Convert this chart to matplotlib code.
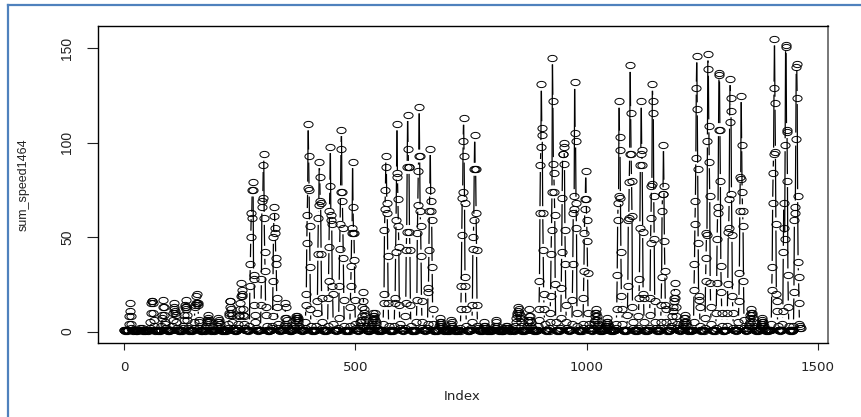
import matplotlib
matplotlib.use('Agg')
import matplotlib.pyplot as plt
from matplotlib.collections import LineCollection
from matplotlib.lines import Line2D
from matplotlib.path import Path
from matplotlib.transforms import Affine2D
import numpy as np

# hourly values, one row per day (61 days x 24 hours)
day_00_10 = [
    [1,1,.5,1,1,1,.5,1,1,1,4,8,15,11,8,4,2,1,1,.5,1,1,1,1],
    [1,.5,1,1,1,.5,1,1,1,1,1,2,1,1,2,1,1,1,.5,1,1,1,.5,1],
    [1,1,1,.5,1,1,1,1,2,5,10,15,16,16,15,10,6,3,1,1,.5,1,1,1],
    [1,.5,1,1,1,1,.5,1,1,3,7,9,13,17,13,9,5,4,2,1,1,1,.5,1],
    [1,1,.5,1,1,1,1,1,3,6,10,12,15,13,11,10,9,5,2,1,1,1,1,.5],
    [.5,1,1,1,1,.5,1,2,3,6,9,13,14,17,13,12,9,6,2,1,1,.5,1,1],
    [1,1,.5,1,1,1,1,2,5,13,14,15,19,20,15,15,14,6,5,2,1,1,1,.5],
    [1,.5,1,1,1,1,.5,1,2,1,3,5,6,9,7,6,5,3,1,1,1,.5,1,1],
    [1,1,1,.5,1,1,1,1,1,2,3,5,7,6,5,4,2,1,1,1,.5,1,1,1],
    [1,.5,1,1,1,.5,1,1,2,4,9,10,13,16,16,12,10,9,5,2,1,1,1,.5],
    [1,1,.5,1,1,1,2,4,8,9,12,15,19,26,22,20,19,12,9,8,4,2,1,1],
]
day_11_20 = [
    [1,1,1,.5,1,1,1,3,24,36,50,63,60,75,79,75,30,28,14,9,5,2,1,1],
    [1,.5,1,1,1,1,1,1,14,28,66,69,71,88,94,60,42,32,13,9,3,1,1,.5],
    [1,1,.5,1,1,1,1,2,3,8,27,50,61,66,55,52,39,36,18,13,4,2,1,1],
    [1,.5,1,1,1,1,1,1,1,2,3,4,7,15,13,7,6,3,2,1,1,1,.5,1],
    [1,1,.5,1,1,1,1,2,3,4,6,7,8,7,8,7,6,5,3,2,1,1,1,1],
    [1,.5,1,1,1,1,1,2,5,14,20,47,62,76,110,93,75,56,34,12,3,1,1,.5],
    [1,1,1,.5,1,1,1,1,3,10,16,41,60,67,90,82,69,68,41,18,5,2,1,1],
    [.5,1,1,1,1,.5,1,1,3,18,27,45,64,77,98,62,59,57,24,20,4,1,1,1],
    [1,1,.5,1,1,1,1,2,7,24,44,57,74,97,107,74,69,55,39,17,3,1,.5,1],
    [1,.5,1,1,1,1,.5,1,3,13,24,35,52,55,90,66,52,52,38,17,4,2,1,1],
]
day_21_31 = [
    [1,1,.5,1,1,2,3,5,6,5,8,13,16,21,12,10,6,8,3,2,1,1,1,.5],
    [1,.5,1,1,2,1,3,4,5,6,8,10,8,7,10,6,5,4,2,1,1,.5,1,1],
    [1,1,1,.5,1,1,1,1,4,15,20,54,65,75,93,87,68,63,40,15,3,1,1,.5],
    [.5,1,1,1,1,.5,1,1,3,15,18,42,59,84,110,82,70,56,45,14,4,2,1,1],
    [1,1,.5,1,1,1,1,2,8,15,43,53,87,115,97,87,87,53,43,14,3,1,.5,1],
    [1,.5,1,1,1,.5,1,1,5,17,52,67,85,93,119,93,64,56,40,16,5,2,1,1],
    [1,1,1,.5,1,1,1,2,4,21,23,43,64,75,97,69,64,59,34,12,4,1,1,.5],
    [1,.5,1,1,.5,1,1,1,2,3,5,4,7,5,4,3,2,1,1,.5,1,1,1,1],
    [1,1,.5,1,1,1,.5,1,1,2,4,6,5,3,2,2,1,1,1,1,.5,1,1,1],
    [.5,1,1,1,1,1,.5,2,12,24,51,71,74,101,113,93,68,29,24,12,3,1,1,.5],
    [1,1,.5,1,1,1,1,2,5,14,44,50,59,86,104,86,86,63,43,14,3,2,1,1],
]
day_32_43 = [
    [1,.5,1,1,1,.5,1,1,2,1,3,5,2,3,2,1,1,.5,1,1,1,.5,1,1],
    [1,1,.5,1,1,1,1,1,1,2,3,6,5,2,3,1,1,1,.5,1,1,1,1,.5],
    [.5,1,1,1,.5,1,1,1,2,3,2,1,3,2,1,1,2,1,1,.5,1,1,1,1],
    [1,1,.5,1,1,1,3,5,7,9,10,11,13,12,10,9,7,5,3,1,1,.5,1,1],
    [1,.5,1,1,1,1,1,2,3,5,6,8,12,8,6,5,3,2,1,1,1,1,.5,1],
    [1,1,1,.5,1,1,1,3,6,12,27,63,88,98,131,108,104,63,43,20,12,4,1,1],
    [1,.5,1,1,1,1,.5,2,5,10,19,41,54,74,145,122,89,84,74,62,25,5,1,1],
    [.5,1,1,1,.5,1,1,2,7,23,42,71,94,94,100,98,89,54,36,14,5,2,1,1],
    [1,1,.5,1,1,1,1,1,4,17,36,63,65,72,132,105,101,68,55,10,3,1,1,.5],
    [1,.5,1,1,1,.5,1,2,4,18,32,52,65,70,85,70,59,48,31,10,4,2,1,1],
    [1,1,1,.5,1,1,2,4,5,6,8,10,12,10,8,6,3,4,2,1,1,.5,1,1],
    [1,.5,1,1,2,1,1,2,3,4,3,5,7,5,4,2,3,1,1,1,.5,1,1,1],
]
day_44_60 = [
    [1,1,.5,1,1,1,1,2,4,12,30,59,68,72,122,103,96,71,42,19,12,4,1,1],
    [1,.5,1,1,1,1,.5,1,9,24,59,60,79,94,141,116,94,80,61,13,5,2,1,1],
    [.5,1,1,1,.5,1,1,2,8,18,28,55,88,94,122,96,88,53,20,18,5,1,1,.5],
    [1,1,.5,1,1,1,1,2,9,18,47,60,77,78,131,122,116,72,49,16,5,2,1,1],
    [1,.5,1,1,1,.5,1,2,5,14,29,64,73,73,99,77,48,32,14,12,5,1,.5,1],
    [1,1,1,.5,1,1,2,3,5,8,11,13,16,18,26,21,18,13,8,4,2,1,1,1],
    [1,.5,1,1,1,1,1,2,3,4,5,7,9,7,5,4,3,1,1,.5,1,1,1,1],
    [1,1,.5,1,1,1,1,5,22,36,57,69,92,129,146,118,86,47,19,17,13,3,1,1],
    [.5,1,1,1,1,.5,1,2,7,27,39,52,51,101,147,139,109,90,72,26,13,4,1,1],
    [1,1,.5,1,1,1,.5,2,10,26,49,63,66,107,137,136,107,80,35,21,10,3,1,.5],
    [1,.5,1,1,1,1,1,3,10,25,53,55,70,111,134,124,117,73,51,19,10,2,1,1],
    [1,1,1,.5,1,1,1,2,5,16,31,64,82,81,125,99,74,64,56,27,6,2,1,1],
    [.5,1,1,1,1,2,3,4,5,7,9,10,12,10,9,7,5,3,2,1,1,.5,1,1],
    [1,1,.5,1,1,1,2,2,3,4,5,7,6,5,4,3,2,1,1,1,.5,1,1,1],
    [1,.5,1,1,1,1,1,4,22,34,68,84,94,129,155,121,95,57,20,16,11,3,1,1],
    [1,1,.5,1,1,1,1,4,11,42,68,55,49,99,152,151,107,106,80,30,13,3,1,.5],
    [1,1,1,.5,1,1,1,3,21,59,63,66,102,140,142,124,72,37,29,15,4,3,2,2],
]

tick_x = [0, 500, 1000, 1500]
tick_y = [0, 50, 100, 150]

sum_speed = np.array(day_00_10 + day_11_20 + day_21_31 + day_32_43 + day_44_60, dtype=float).ravel()
assert len(sum_speed) == 1464
index = np.arange(len(sum_speed))

plt.rcParams['font.family'] = ['Liberation Sans Narrow', 'Liberation Sans', 'DejaVu Sans']

W, H = 861, 417
fig = plt.figure(figsize=(W / 100, H / 100), dpi=100)
ax = fig.add_axes([97.7 / W, 1 - 343.3 / H, (827.7 - 97.7) / W, (343.3 - 26) / H])
ax.set_xlim(-56.9, 1521)
ax.set_ylim(-6.2, 161.9)

# R type="b": segments stop short of the circles, so work in pixels
pts = ax.transData.transform(np.column_stack([index, sum_speed]))
gap = 6.5
segs = []
for a, b in zip(pts[:-1], pts[1:]):
    d = np.hypot(*(b - a))
    if d > 2 * gap:
        u = (b - a) / d
        segs.append([a + u * gap, b - u * gap])
ax.add_collection(LineCollection(segs, colors='black', linewidths=0.9, transform=None, zorder=2))

# flattened circle, the original picture was stretched sideways
ellipse = Path.unit_circle().transformed(Affine2D().scale(1, 0.68))
ax.plot(index, sum_speed, ls='none', marker=ellipse, ms=6.6, mfc='none', mec='black', mew=0.7, zorder=3)

for s in ax.spines.values():
    s.set_linewidth(1.0)
ax.spines['right'].set_color('#777777')
ax.spines['right'].set_linewidth(1.4)

ax.set_xticks(tick_x)
ax.set_yticks(tick_y)
ax.tick_params(axis='x', length=5.2, width=0.8, pad=7.5, labelsize=10, color='#222222')
ax.tick_params(axis='y', length=8, width=0.8, pad=9, labelsize=10, color='#222222')
for t in ax.get_xticklabels():
    t.set_family('DejaVu Sans')
    t.set_fontsize(9.6)
    t.set_color('#222222')
for t in ax.get_yticklabels():
    t.set_rotation(90)
    t.set_va('center')
    t.set_color('#222222')

fig.text(462 / W, 1 - 397 / H, 'Index', family='DejaVu Sans', fontsize=9.6, ha='center', va='center', color='#222222')
fig.text(24 / W, 1 - 185 / H, 'sum_speed1464', rotation=90, fontsize=9, ha='center', va='center', color='#222222')

# blue frame of the screenshot, only top and left
fig.add_artist(Line2D([7.5 / W, 7.5 / W], [0, 1 - 5 / H], color='#4f81bd', lw=1.6))
fig.add_artist(Line2D([7.5 / W, 1], [1 - 5 / H, 1 - 5 / H], color='#4f81bd', lw=1.6))

fig.savefig('out.png', dpi=100)
